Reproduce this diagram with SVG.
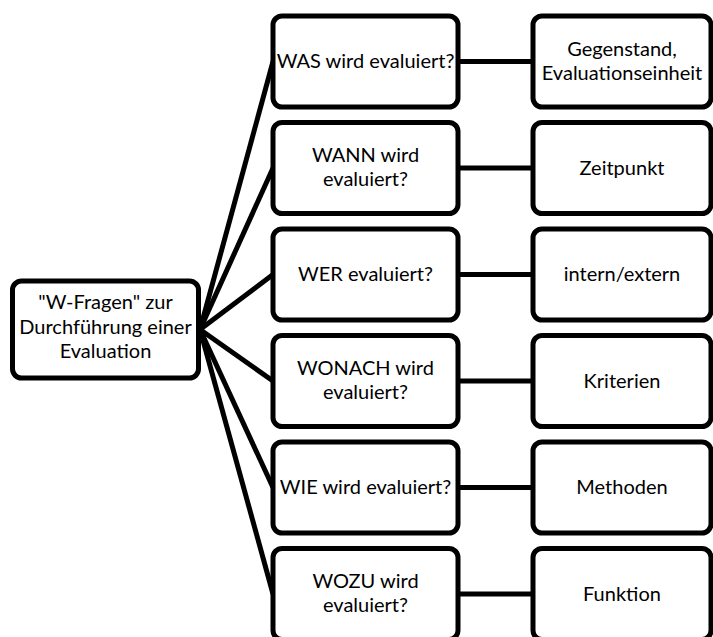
<svg xmlns="http://www.w3.org/2000/svg" width="713" height="637" viewBox="0 0 713 637">
<style>
.box{fill:#fff;stroke:#000;stroke-width:5}
.ln{stroke:#000;stroke-width:5;fill:none}
text{font-family:Lato,"Open Sans",sans-serif;font-size:20px;fill:#000;text-anchor:middle}
</style>
<rect width="713" height="637" fill="#fff"/>
<g id="connectors">
<line class="ln" x1="200" y1="329.5" x2="273" y2="61.5"/>
<line class="ln" x1="200" y1="329.5" x2="273" y2="168"/>
<line class="ln" x1="200" y1="329.5" x2="273" y2="274.5"/>
<line class="ln" x1="200" y1="329.5" x2="273" y2="381"/>
<line class="ln" x1="200" y1="329.5" x2="273" y2="487.5"/>
<line class="ln" x1="200" y1="329.5" x2="273" y2="594"/>
<line class="ln" x1="458" y1="61.5" x2="533" y2="61.5"/>
<line class="ln" x1="458" y1="168" x2="533" y2="168"/>
<line class="ln" x1="458" y1="274.5" x2="533" y2="274.5"/>
<line class="ln" x1="458" y1="381" x2="533" y2="381"/>
<line class="ln" x1="458" y1="487.5" x2="533" y2="487.5"/>
<line class="ln" x1="458" y1="594" x2="533" y2="594"/>
</g>
<g id="root">
<rect class="box" x="12.5" y="281" width="186" height="97" rx="9"/>
<text x="105.5" y="309">"W-Fragen" zur</text>
<text x="105.5" y="334">Durchführung einer</text>
<text x="105.5" y="358">Evaluation</text>
</g>
<g id="q1"><rect class="box" x="273" y="16" width="185" height="91" rx="9"/><text x="365.5" y="68">WAS wird evaluiert?</text></g>
<g id="q2"><rect class="box" x="273" y="122.5" width="185" height="91" rx="9"/><text x="365.5" y="162">WANN wird</text><text x="365.5" y="186">evaluiert?</text></g>
<g id="q3"><rect class="box" x="273" y="229" width="185" height="91" rx="9"/><text x="365.5" y="281">WER evaluiert?</text></g>
<g id="q4"><rect class="box" x="273" y="335.5" width="185" height="91" rx="9"/><text x="365.5" y="375">WONACH wird</text><text x="365.5" y="399">evaluiert?</text></g>
<g id="q5"><rect class="box" x="273" y="442" width="185" height="91" rx="9"/><text x="365.5" y="494">WIE wird evaluiert?</text></g>
<g id="q6"><rect class="box" x="273" y="548.5" width="185" height="91" rx="9"/><text x="365.5" y="588">WOZU wird</text><text x="365.5" y="612">evaluiert?</text></g>
<g id="a1"><rect class="box" x="533" y="16" width="178" height="91" rx="9"/><text x="622" y="56">Gegenstand,</text><text x="622" y="80">Evaluationseinheit</text></g>
<g id="a2"><rect class="box" x="533" y="122.5" width="178" height="91" rx="9"/><text x="622" y="175">Zeitpunkt</text></g>
<g id="a3"><rect class="box" x="533" y="229" width="178" height="91" rx="9"/><text x="622" y="281">intern/extern</text></g>
<g id="a4"><rect class="box" x="533" y="335.5" width="178" height="91" rx="9"/><text x="622" y="388">Kriterien</text></g>
<g id="a5"><rect class="box" x="533" y="442" width="178" height="91" rx="9"/><text x="622" y="494">Methoden</text></g>
<g id="a6"><rect class="box" x="533" y="548.5" width="178" height="91" rx="9"/><text x="622" y="601">Funktion</text></g>
</svg>
